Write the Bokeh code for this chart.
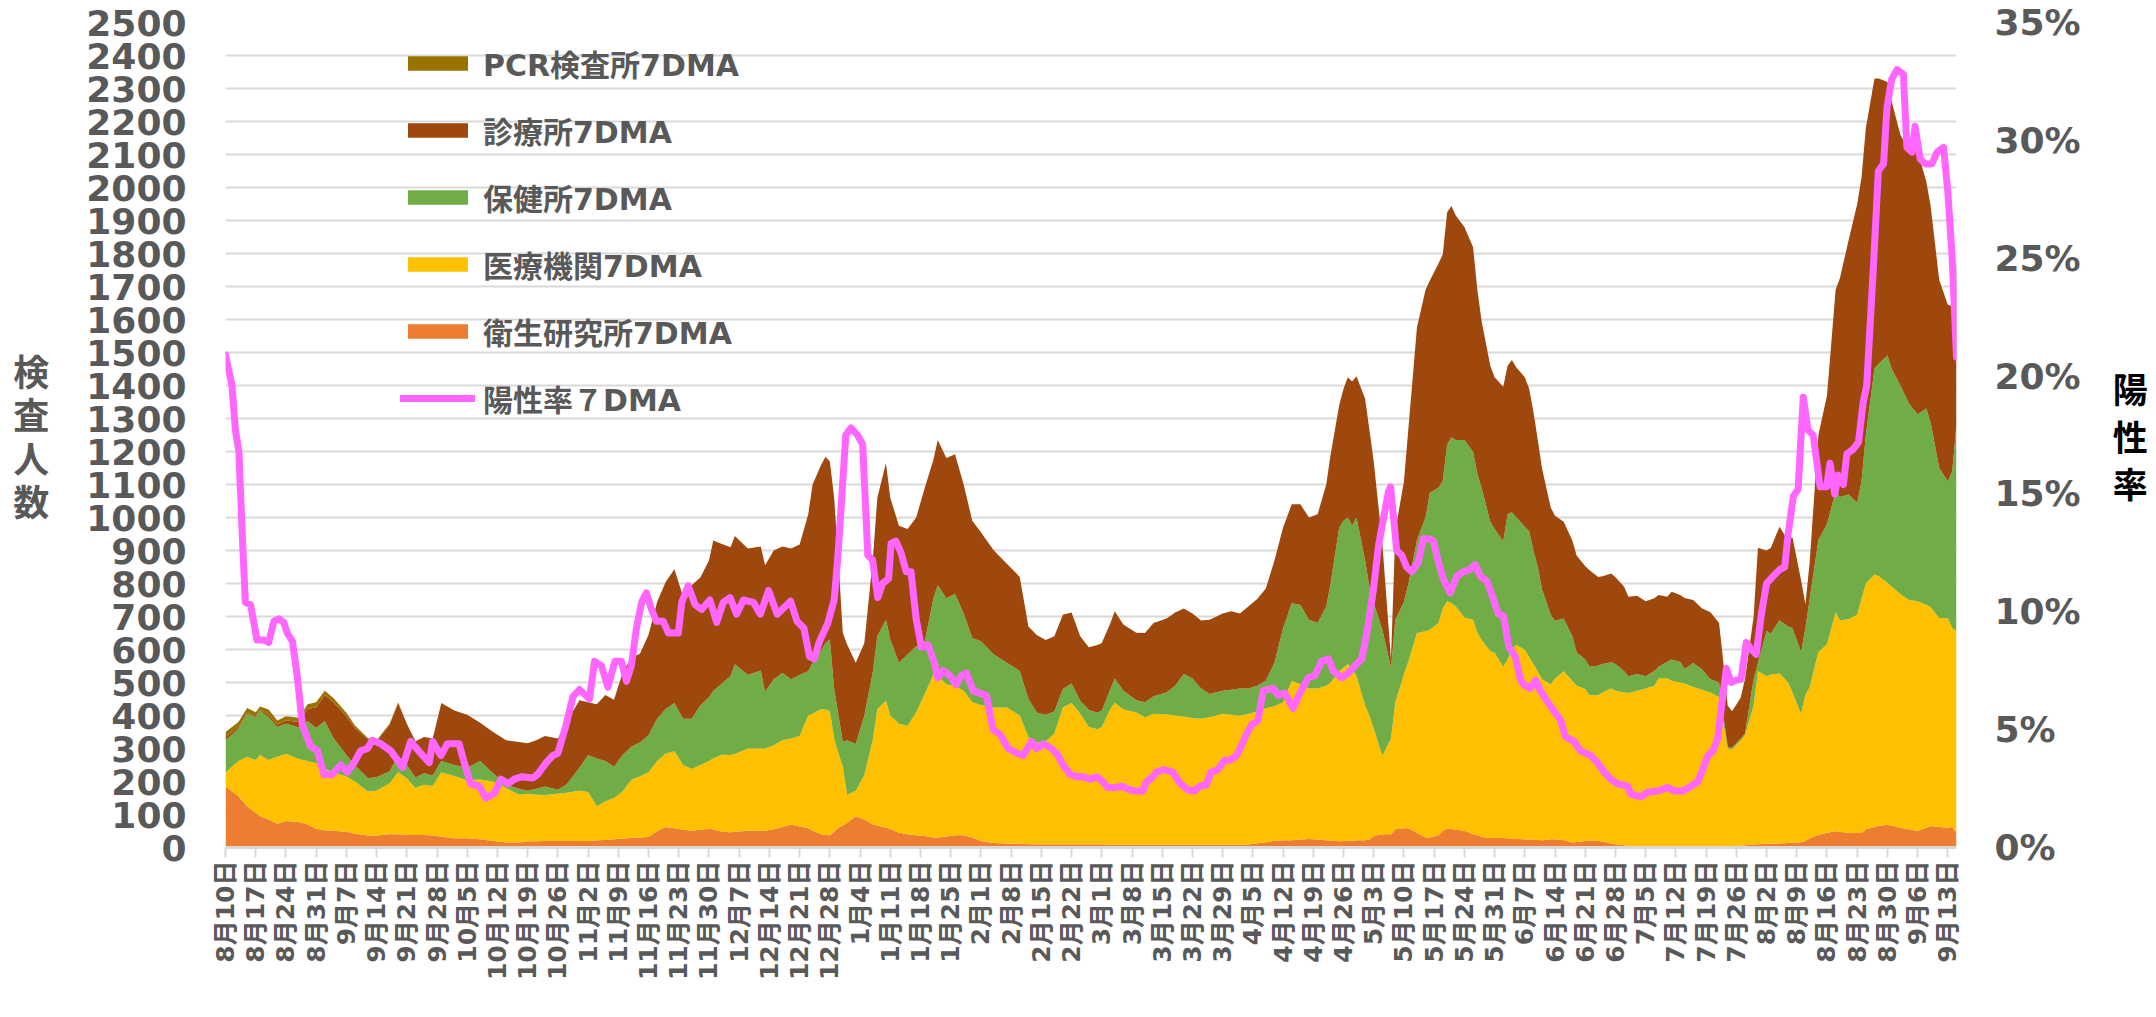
import math
from bokeh.plotting import figure
from bokeh.models import (ColumnDataSource, Range1d, LinearAxis, FixedTicker,
                          SingleIntervalTicker, PrintfTickFormatter, Legend, LegendItem)
from bokeh.embed import file_html
from bokeh.resources import INLINE

# ---- data: days since 2020-08-10 ----
days = [
    0, 3, 5, 7, 8, 10, 12, 14, 17, 19, 21, 23, 25, 28, 30, 33, 35, 38, 40, 42, 44, 46, 48, 50, 53, 56, 59, 62, 65, 68,
    70, 72, 74, 77, 79, 82, 84, 86, 88, 90, 92, 94, 96, 98, 100, 102, 104, 106, 108, 110, 112, 113, 115, 117, 118, 121, 124, 125, 127, 129, 131, 133, 135, 136,
    138, 139, 140, 141, 142, 143, 144, 146, 148, 150, 151, 153, 154, 156, 158, 160, 162, 164, 165, 167, 169, 171, 173, 175, 178, 181, 184, 186, 188, 190, 192, 194, 196, 198, 200, 202, 203,
    205, 206, 208, 211, 213, 215, 218, 220, 222, 224, 226, 228, 231, 233, 235, 237, 239, 241, 243, 245, 247, 249, 251, 253, 255, 256, 258, 259, 260, 261, 262, 264, 265,
    266, 268, 270, 271, 273, 274, 276, 278, 279, 281, 282, 283, 284, 285, 287, 289, 290, 291, 293, 294, 296, 297, 298, 299, 301, 302, 303, 304, 305, 307, 308, 310, 312, 313, 315, 316, 318, 319, 321, 322, 324, 325, 327, 329, 331, 332, 334, 335, 337, 338,
    340, 342, 344, 346, 347, 348, 349, 351, 352, 354, 355, 357, 358, 360, 362, 363, 365, 366, 367, 369, 371, 373, 374, 376, 378, 379, 380, 382, 383, 385, 386, 388, 390, 392, 394, 395, 397, 399, 400, 401,
]
eisei = [  # 衛生研究所7DMA
    185, 155, 125, 105, 95, 85, 72, 80, 77, 70, 57, 52, 51, 48, 42, 36, 36, 40, 40, 38, 38, 38, 36, 33, 28, 28, 25, 20, 15, 15,
    19, 19, 20, 20, 20, 20, 20, 22, 23, 25, 27, 29, 30, 32, 50, 62, 58, 54, 51, 54, 57, 55, 48, 46, 48, 51, 51, 51, 55, 62, 70, 64, 58, 51,
    40, 38, 37, 48, 60, 66, 75, 95, 85, 70, 67, 60, 57, 45, 40, 37, 35, 30, 30, 33, 37, 37, 30, 20, 14, 12, 11, 10, 10, 10, 10, 10, 10, 10, 10, 10, 10,
    8, 8, 8, 8, 8, 8, 8, 8, 8, 8, 8, 8, 8, 8, 8, 9, 13, 16, 20, 22, 22, 24, 26, 24, 22, 21, 19, 20, 20, 21, 22, 22, 24,
    35, 40, 40, 55, 58, 58, 45, 30, 30, 37, 50, 58, 56, 54, 51, 40, 37, 32, 29, 29, 29, 28, 27, 26, 25, 24, 23, 23, 22, 25, 25, 22, 15, 17, 20, 22, 20, 18, 12, 10, 7, 5, 4, 3, 3, 3, 3, 3, 3, 3,
    3, 3, 3, 3, 3, 3, 4, 6, 7, 9, 10, 11, 11, 12, 14, 15, 16, 20, 28, 38, 45, 49, 48, 44, 44, 44, 55, 62, 66, 68, 67, 60, 55, 50, 60, 65, 62, 60, 62, 45,
]
iryo = [  # 医療機関7DMA
    42, 107, 149, 160, 185, 180, 203, 203, 191, 192, 198, 186, 177, 167, 158, 134, 136, 155, 188, 172, 142, 152, 150, 195, 189, 176, 181, 180, 165, 145,
    144, 141, 139, 143, 146, 152, 148, 103, 117, 125, 143, 176, 185, 196, 212, 223, 234, 196, 187, 196, 205, 215, 233, 234, 235, 249, 249, 249, 255, 263, 260, 274, 342, 354,
    380, 380, 377, 282, 225, 179, 85, 77, 135, 260, 353, 385, 343, 330, 328, 373, 430, 495, 490, 462, 453, 438, 410, 412, 410, 412, 389, 325, 308, 312, 335, 415, 428, 395, 355, 348, 355,
    412, 431, 410, 401, 387, 397, 395, 392, 389, 384, 382, 387, 397, 394, 391, 396, 399, 406, 408, 418, 483, 471, 456, 458, 468, 479, 515, 525, 536, 519, 498, 408, 376,
    325, 238, 290, 385, 467, 505, 605, 625, 630, 643, 674, 688, 684, 676, 646, 650, 614, 597, 566, 561, 519, 542, 573, 588, 574, 553, 532, 511, 488, 470, 487, 512, 490, 473, 460, 439, 441, 452, 470, 465, 463, 463, 471, 479, 487, 509, 509, 502, 497, 494,
    483, 475, 467, 452, 378, 297, 294, 318, 333, 421, 525, 508, 513, 515, 486, 455, 389, 442, 458, 554, 571, 664, 641, 648, 661, 710, 745, 765, 756, 734, 723, 708, 695, 696, 675, 664, 633, 635, 603, 611,
]
hokenjo = [  # 保健所7DMA
    98, 98, 131, 130, 135, 130, 90, 93, 96, 121, 107, 145, 104, 65, 49, 40, 42, 35, 50, 40, 32, 35, 32, 34, 33, 38, 56, 25, 10, 18,
    9, 18, 26, 12, 25, 70, 112, 145, 122, 95, 110, 100, 103, 112, 128, 135, 146, 140, 152, 180, 193, 205, 216, 240, 272, 223, 236, 172, 200, 204, 180, 185, 134, 155,
    177, 202, 216, 150, 115, 75, 165, 142, 180, 205, 220, 245, 230, 185, 217, 200, 160, 230, 275, 260, 278, 234, 195, 193, 161, 136, 135, 115, 90, 80, 67, 55, 59, 40, 52, 50, 50,
    60, 73, 57, 37, 45, 53, 67, 90, 129, 120, 92, 70, 70, 76, 83, 77, 78, 83, 132, 225, 235, 240, 208, 198, 240, 300, 436, 445, 444, 435, 480, 440, 390,
    380, 382, 215, 250, 220, 234, 280, 346, 415, 410, 387, 475, 503, 505, 538, 510, 482, 460, 392, 375, 380, 440, 416, 387, 373, 381, 345, 316, 272, 210, 175, 160, 135, 102, 90, 87, 90, 86, 79, 81, 64, 51, 51, 37, 45, 36, 51, 65, 63, 44,
    73, 62, 40, 45, 16, 5, 4, 6, 5, 80, 24, 137, 124, 162, 170, 195, 187, 203, 268, 340, 364, 365, 373, 378, 340, 356, 450, 624, 645, 689, 660, 632, 595, 567, 595, 559, 455, 415, 475, 624,
]
shinryo = [  # 診療所7DMA
    10, 5, 3, 3, 3, 7, 7, 9, 16, 37, 63, 79, 108, 118, 113, 118, 108, 142, 159, 125, 110, 110, 112, 176, 165, 160, 116, 125, 135, 142,
    144, 147, 153, 155, 189, 204, 160, 164, 200, 203, 250, 270, 269, 305, 355, 385, 405, 370, 405, 388, 415, 455, 423, 390, 389, 383, 376, 383, 390, 383, 396, 395, 476, 540,
    563, 564, 540, 580, 470, 330, 290, 246, 220, 345, 420, 475, 430, 415, 380, 390, 465, 420, 440, 425, 424, 391, 355, 330, 315, 300, 285, 220, 235, 227, 228, 225, 215, 195, 190, 206, 205,
    200, 204, 201, 205, 210, 222, 224, 222, 198, 197, 206, 225, 234, 238, 227, 249, 263, 280, 310, 305, 300, 305, 310, 330, 370, 390, 370, 400, 425, 437, 428, 490, 475,
    430, 260, 25, 270, 365, 468, 645, 689, 643, 680, 687, 704, 701, 680, 645, 620, 557, 505, 473, 460, 468, 450, 461, 454, 453, 432, 420, 385, 366, 325, 318, 293, 290, 293, 282, 292, 269, 266, 269, 263, 256, 241, 237, 227, 220, 217, 197, 205, 202, 215,
    191, 185, 203, 180, 163, 125, 111, 124, 165, 190, 349, 244, 260, 283, 260, 275, 218, 72, 113, 318, 390, 612, 664, 770, 905, 920, 930, 879, 863, 829, 810, 760, 765, 797, 688, 657, 570, 535, 500, 495,
]
# PCR検査所7DMA: only present at the start of the period
pcr_days = [0, 3, 5, 7, 8, 10, 12, 14, 17, 19, 21, 23, 25, 28, 30, 33, 35, 38, 40]
pcr_vals = [15, 15, 15, 12, 9, 16, 13, 13, 13, 14, 15, 13, 13, 10, 8, 4, 3, 3, 3]

# 陽性率7DMA (%)
rate_days = [
    0, 1.5, 2.3, 3.1, 3.9, 4.6, 5.8, 7.3, 8.9, 10,
    11.2, 12.4, 13.5, 14.3, 15.5, 16.6, 17.8, 19.7, 21.3, 22.8,
    24.7, 26.7, 28.2, 29.8, 31.3, 32.9, 34, 36, 38.3, 41,
    42.9, 45.2, 47.2, 48, 49.9, 51.4, 54.1, 55.3, 56.8, 58.8,
    60.3, 62.3, 63.8, 65.4, 66.9, 68.6, 71.2, 72.3, 74.3, 75.8,
    77, 78.9, 80.5, 82, 84.3, 85.5, 87.1, 88.6, 90.2, 91.7,
    92.9, 94, 95.2, 96.4, 97.5, 98.7, 99.8, 101.4, 102.6, 104.9,
    105.7, 107.2, 108.8, 110.3, 112.2, 113.8, 115.3, 116.9, 118.4, 120,
    122.3, 123.9, 125.8, 127.8, 130.9, 132.4, 134, 135.3, 136.4, 137.5,
    139.5, 141, 141.8, 142.6, 143.7, 144.9, 146.4, 147.6, 148.8, 149.9,
    151.1, 152.2, 153.6, 154.2, 155.3, 156.5, 157.7, 158.8, 160, 161.2,
    162.7, 164.3, 165, 166.2, 167.8, 169.3, 170.5, 171.6, 173.2, 174.7,
    176.3, 177.8, 179.4, 181.3, 183.3, 184.8, 186.7, 187.9, 189.5, 191.4,
    192.9, 194, 195.7, 197.2, 198.8, 200.3, 201.9, 203.2, 204.3, 206.3,
    207.8, 209.4, 210.5, 212.5, 213.2, 214.8, 215.6, 217.5, 219.4, 221,
    222.9, 224.5, 225.6, 227.2, 228.3, 229.9, 231.4, 232.6, 234.2, 235.3,
    236.5, 237.7, 239.2, 240.4, 242.7, 243.9, 245.4, 247.3, 248.9, 250.8,
    252.4, 253.9, 255.5, 256.6, 258.6, 260.1, 262.1, 263.2, 264.4, 265.9,
    267.1, 268.3, 269.4, 269.9, 270.8, 271.3, 272.5, 273.6, 274.8, 276.3,
    277.5, 278.7, 279.8, 281, 282.1, 283.7, 285.2, 286.8, 288.3, 289.5,
    290.7, 292.2, 293.4, 294.9, 296.1, 297.3, 298.8, 300, 300.8, 302.3,
    303.5, 304.6, 306.2, 307.7, 309.3, 310.4, 312.4, 313.9, 316.3, 317.8,
    319.4, 320.9, 322.5, 324.8, 325.6, 327.9, 329.4, 331.8, 334.1, 335.6,
    337.6, 339.5, 341.1, 342.2, 343.4, 344.6, 345.7, 346.9, 347.7, 348.8,
    350, 351.1, 352.3, 353.5, 354.6, 355.8, 357, 358.5, 360.1, 361.2,
    362, 363.2, 364.3, 365.5, 366.6, 367.8, 369.4, 370.9, 371.7, 372.8,
    373.6, 374.8, 375.6, 377.1, 378.3, 379.4, 380.2, 381.8, 382.9, 384.1,
    384.9, 386, 387.2, 388.7, 389.5, 390.7, 391.4, 392.6, 393.8, 395.3,
    396.5, 398, 399, 400, 401,
]
rate_pct = [
    20.9, 19.6, 17.7, 16.8, 13.2, 10.4, 10.3, 8.8, 8.8, 8.7,
    9.6, 9.7, 9.55, 9.1, 8.75, 7.3, 5.2, 4.3, 4.1, 3.1,
    3.1, 3.5, 3.2, 3.6, 4.1, 4.2, 4.55, 4.4, 4.1, 3.4,
    4.5, 4.0, 3.6, 4.5, 3.9, 4.4, 4.4, 3.6, 2.7, 2.6,
    2.1, 2.3, 2.9, 2.7, 2.9, 3.0, 2.95, 3.1, 3.6, 3.9,
    4.0, 5.2, 6.4, 6.7, 6.3, 7.9, 7.7, 6.8, 7.9, 7.9,
    7.05, 7.7, 9.3, 10.4, 10.8, 10.1, 9.6, 9.6, 9.1, 9.1,
    10.4, 11.1, 10.3, 10.1, 10.5, 9.55, 10.4, 10.6, 9.9, 10.5,
    10.4, 9.9, 10.9, 9.9, 10.45, 9.6, 9.3, 8.1, 8.0, 8.7,
    9.5, 10.5, 12.2, 14.4, 17.5, 17.8, 17.5, 17.1, 12.4, 12.2,
    10.6, 11.2, 11.4, 12.9, 13.0, 12.5, 11.7, 11.7, 9.7, 8.5,
    8.6, 7.8, 7.2, 7.5, 7.3, 6.9, 7.3, 7.4, 6.65, 6.55,
    6.45, 5.0, 4.8, 4.2, 4.0, 3.9, 4.5, 4.2, 4.4, 4.2,
    3.9, 3.5, 3.1, 3.0, 3.0, 2.9, 3.0, 2.8, 2.55, 2.55,
    2.6, 2.45, 2.4, 2.4, 2.75, 3.0, 3.2, 3.3, 3.2, 2.75,
    2.45, 2.4, 2.6, 2.65, 3.2, 3.3, 3.7, 3.7, 3.9, 4.3,
    4.8, 5.2, 5.4, 6.65, 6.75, 6.45, 6.55, 5.9, 6.55, 7.2,
    7.3, 7.9, 8.0, 7.5, 7.2, 7.4, 7.8, 8.0, 9.1, 10.9,
    12.8, 14.0, 15.1, 15.3, 13.6, 12.6, 12.4, 11.9, 11.7, 12.1,
    13.1, 13.1, 13.0, 12.1, 11.4, 10.8, 11.5, 11.7, 11.8, 12.0,
    11.5, 11.3, 10.7, 9.9, 9.8, 8.5, 8.1, 7.1, 6.9, 6.75,
    7.1, 6.65, 6.2, 5.8, 5.4, 4.7, 4.5, 4.1, 3.9, 3.6,
    3.2, 2.9, 2.7, 2.6, 2.25, 2.15, 2.35, 2.4, 2.55, 2.4,
    2.4, 2.6, 2.8, 3.3, 3.9, 4.1, 4.65, 6.5, 7.6, 7.0,
    7.1, 7.15, 8.7, 8.4, 8.2, 9.9, 11.2, 11.5, 11.8, 11.9,
    13.3, 14.9, 15.2, 19.1, 17.7, 17.5, 15.3, 15.3, 16.3, 15.0,
    15.8, 15.4, 16.7, 16.9, 17.2, 18.9, 19.6, 24.8, 28.7, 29.0,
    31.4, 32.6, 33.0, 32.8, 29.7, 29.5, 30.6, 29.2, 29.0, 29.0,
    29.5, 29.7, 27.8, 25.0, 20.8,
]

tick_labels = [
    "8月10日", "8月17日", "8月24日", "8月31日", "9月7日", "9月14日", "9月21日", "9月28日",
    "10月5日", "10月12日", "10月19日", "10月26日", "11月2日", "11月9日", "11月16日", "11月23日",
    "11月30日", "12月7日", "12月14日", "12月21日", "12月28日", "1月4日", "1月11日", "1月18日",
    "1月25日", "2月1日", "2月8日", "2月15日", "2月22日", "3月1日", "3月8日", "3月15日",
    "3月22日", "3月29日", "4月5日", "4月12日", "4月19日", "4月26日", "5月3日", "5月10日",
    "5月17日", "5月24日", "5月31日", "6月7日", "6月14日", "6月21日", "6月28日", "7月5日",
    "7月12日", "7月19日", "7月26日", "8月2日", "8月9日", "8月16日", "8月23日", "8月30日",
    "9月6日", "9月13日",
]

series_names = ["衛生研究所7DMA", "医療機関7DMA", "保健所7DMA", "診療所7DMA", "PCR検査所7DMA"]
series_colors = ["#ED7D31", "#FFC000", "#70AD47", "#9E480E", "#997300"]
rate_name = "陽性率７DMA"
rate_color = "#FF66FF"

GRAY = "#595959"
FONT = "DejaVu Sans, Noto Sans CJK JP"

# ---- table for the library ----
pcr_map = dict(zip(pcr_days, pcr_vals))
source = ColumnDataSource(dict(
    day=days, eisei=eisei, iryo=iryo, hokenjo=hokenjo, shinryo=shinryo,
    pcr=[pcr_map.get(d, 0) for d in days],
))
tick_days = [7 * i for i in range(len(tick_labels))]

p = figure(width=2150, height=1012, x_range=Range1d(0, 401), y_range=Range1d(0, 2500),
           output_backend="svg", toolbar_location=None,
           min_border_left=225, min_border_right=193, min_border_top=22, min_border_bottom=165)
p.outline_line_color = None
p.background_fill_color = "white"
p.extra_y_ranges = {"rate": Range1d(0, 35)}

area_r = p.varea_stack(stackers=["eisei", "iryo", "hokenjo", "shinryo", "pcr"], x="day",
                       color=series_colors, source=source)
line_r = p.line(rate_days, rate_pct, y_range_name="rate", line_color=rate_color,
                line_width=7, line_join="round", line_cap="round")

# grid
ytick = SingleIntervalTicker(interval=100)
p.xgrid.grid_line_color = None
p.ygrid.ticker = ytick
p.ygrid.grid_line_color = "#D9D9D9"
p.ygrid.grid_line_width = 2

# left axis
ya = p.yaxis[0]
ya.ticker = ytick
ya.axis_line_color = None
ya.major_tick_line_color = None
ya.minor_tick_line_color = None
ya.major_tick_out = 0
ya.major_tick_in = 0
ya.major_label_standoff = 35
ya.major_label_text_font = FONT
ya.major_label_text_font_style = "bold"
ya.major_label_text_font_size = "36px"
ya.major_label_text_color = GRAY
ya.axis_label = "検\n査\n人\n数"
ya.axis_label_orientation = "horizontal"
ya.axis_label_standoff = 34
ya.axis_label_text_font = "Noto Sans CJK JP"
ya.axis_label_text_font_style = "bold"
ya.axis_label_text_font_size = "36px"
ya.axis_label_text_color = GRAY
ya.axis_label_text_line_height = 0.83

# right axis
yr = LinearAxis(y_range_name="rate", ticker=SingleIntervalTicker(interval=5),
                formatter=PrintfTickFormatter(format="%d%%"))
yr.axis_line_color = None
yr.major_tick_line_color = None
yr.minor_tick_line_color = None
yr.major_tick_out = 0
yr.major_tick_in = 0
yr.major_label_standoff = 34
yr.major_label_text_font = FONT
yr.major_label_text_font_style = "bold"
yr.major_label_text_font_size = "36px"
yr.major_label_text_color = GRAY
yr.axis_label = "陽\n性\n率"
yr.axis_label_orientation = "horizontal"
yr.axis_label_standoff = 29
yr.axis_label_text_font = "Noto Sans CJK JP"
yr.axis_label_text_font_style = "bold"
yr.axis_label_text_font_size = "35px"
yr.axis_label_text_color = "black"
yr.axis_label_text_line_height = 0.93
p.add_layout(yr, "right")

# bottom axis
xa = p.xaxis[0]
xa.ticker = FixedTicker(ticks=tick_days)
xa.major_label_overrides = {d: lab for d, lab in zip(tick_days, tick_labels)}
xa.major_label_orientation = math.pi / 2
xa.axis_line_color = "#D9D9D9"
xa.axis_line_width = 3
xa.major_tick_line_color = "#D9D9D9"
xa.major_tick_line_width = 2
xa.major_tick_out = 10
xa.major_tick_in = 0
xa.minor_tick_line_color = None
xa.major_label_standoff = 3
xa.major_label_text_font = FONT
xa.major_label_text_font_style = "bold"
xa.major_label_text_font_size = "25px"
xa.major_label_text_color = GRAY

# legend (top item = top of the stack)
items = [LegendItem(label=series_names[i], renderers=[area_r[i]]) for i in (4, 3, 2, 1, 0)]
items.append(LegendItem(label=rate_name, renderers=[line_r]))
legend = Legend(items=items, location=(175, 427), orientation="vertical",
                glyph_width=75, glyph_height=18, label_standoff=8,
                label_height=44, spacing=23, padding=0, margin=0,
                label_text_font=FONT, label_text_font_style="bold",
                label_text_font_size="30px", label_text_color=GRAY,
                background_fill_alpha=0, border_line_color=None)
p.add_layout(legend)

open("out.html", "w").write(file_html(p, INLINE))
